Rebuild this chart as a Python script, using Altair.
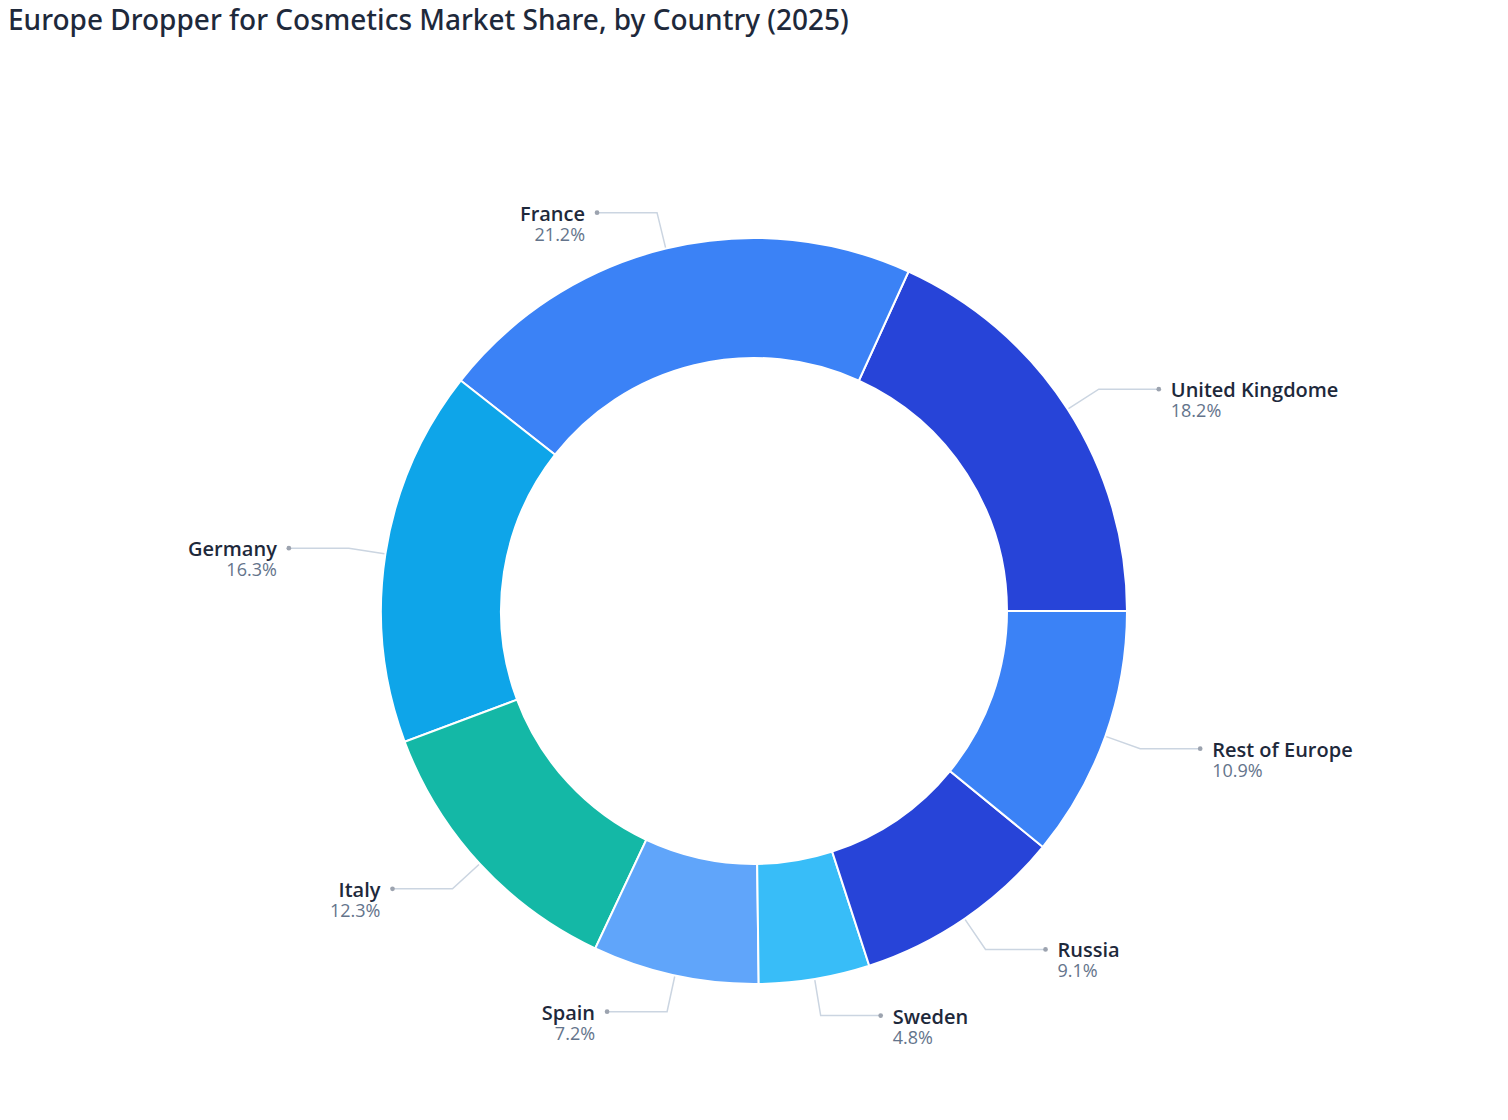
import math
import altair as alt
import pandas as pd

countries = ["United Kingdome", "France", "Germany", "Italy", "Spain", "Sweden", "Russia", "Rest of Europe"]
shares = [18.2, 21.2, 16.3, 12.3, 7.2, 4.8, 9.1, 10.9]
colors = ["#2744d8", "#3b82f6", "#0ea5e9", "#14b8a6", "#60a5fa", "#38bdf8", "#2744d8", "#3b82f6"]
title_text = "Europe Dropper for Cosmetics Market Share, by Country (2025)"

W, H = 1492, 1104
CX, CY = 746, 603
R_OUT, R_IN = 373, 253
R_ELBOW = 410
HLEN = 60

# clockwise from 3 o'clock order for the arc stack
cw_order = list(reversed(range(len(countries))))
slices = pd.DataFrame({
    "country": countries,
    "share": shares,
    "color": colors,
    "ord": [cw_order.index(i) for i in range(len(countries))],
})

total = sum(shares)
line_rows, dot_rows, label_rows = [], [], []
acc = 0.0
for c, s in zip(countries, shares):
    mid = (acc + s / 2) / total * 2 * math.pi
    acc += s
    ca, sa = math.cos(mid), math.sin(mid)
    x0, y0 = CX + (R_OUT + 1) * ca, CY - (R_OUT + 1) * sa
    x1, y1 = CX + R_ELBOW * ca, CY - R_ELBOW * sa
    side = 1 if ca >= 0 else -1
    x2, y2 = x1 + side * HLEN, y1
    for k, (px, py) in enumerate([(x0, y0), (x1, y1), (x2, y2)]):
        line_rows.append({"country": c, "k": k, "x": px, "y": py})
    dot_rows.append({"country": c, "x": x2, "y": y2})
    label_rows.append({"country": c, "pct": f"{s}%", "x": x2 + side * 12, "y": y2,
                       "align": "left" if side > 0 else "right"})

lines = pd.DataFrame(line_rows)
dots = pd.DataFrame(dot_rows)
labels = pd.DataFrame(label_rows)

xs = alt.Scale(domain=[0, W], range=[0, W])
ys = alt.Scale(domain=[0, H], range=[0, H])
FONT = "Open Sans"

arcs = alt.Chart(slices).mark_arc(
    outerRadius=R_OUT, innerRadius=R_IN, stroke="white", strokeWidth=2
).encode(
    theta=alt.Theta("share:Q", stack=True, scale=alt.Scale(range=[math.pi / 2, math.pi / 2 + 2 * math.pi])),
    order=alt.Order("ord:Q"),
    color=alt.Color("color:N", scale=None),
    x=alt.value(CX),
    y=alt.value(CY),
)

leader = alt.Chart(lines).mark_line(color="#cbd5e1", strokeWidth=1.5).encode(
    x=alt.X("x:Q", scale=xs, axis=None),
    y=alt.Y("y:Q", scale=ys, axis=None),
    detail="country:N",
    order="k:Q",
)

dot = alt.Chart(dots).mark_circle(color="#9ca3af", size=22, opacity=1).encode(
    x=alt.X("x:Q", scale=xs, axis=None),
    y=alt.Y("y:Q", scale=ys, axis=None),
)

def label_layer(align):
    d = labels[labels["align"] == align]
    base = alt.Chart(d).encode(
        x=alt.X("x:Q", scale=xs, axis=None),
        y=alt.Y("y:Q", scale=ys, axis=None),
    )
    name = base.mark_text(align=align, baseline="alphabetic", dy=8, font=FONT, fontSize=20,
                          fontWeight=600, color="#1e293b").encode(text="country:N")
    pct = base.mark_text(align=align, baseline="alphabetic", dy=28, font=FONT, fontSize=18,
                         color="#64748b").encode(text="pct:N")
    return name + pct

title = alt.Chart(pd.DataFrame({"t": [title_text]})).mark_text(
    align="left", baseline="alphabetic", font="Noto Sans", fontSize=28, fontWeight=500, color="#1e293b"
).encode(text="t:N", x=alt.value(0), y=alt.value(22))

chart = alt.layer(arcs, leader, dot, label_layer("left"), label_layer("right"), title).properties(
    width=W, height=H, padding=0, autosize=alt.AutoSizeParams(type="none")
).configure_view(stroke=None)

chart.save("out.html", embed_options={"renderer": "svg", "actions": False})
